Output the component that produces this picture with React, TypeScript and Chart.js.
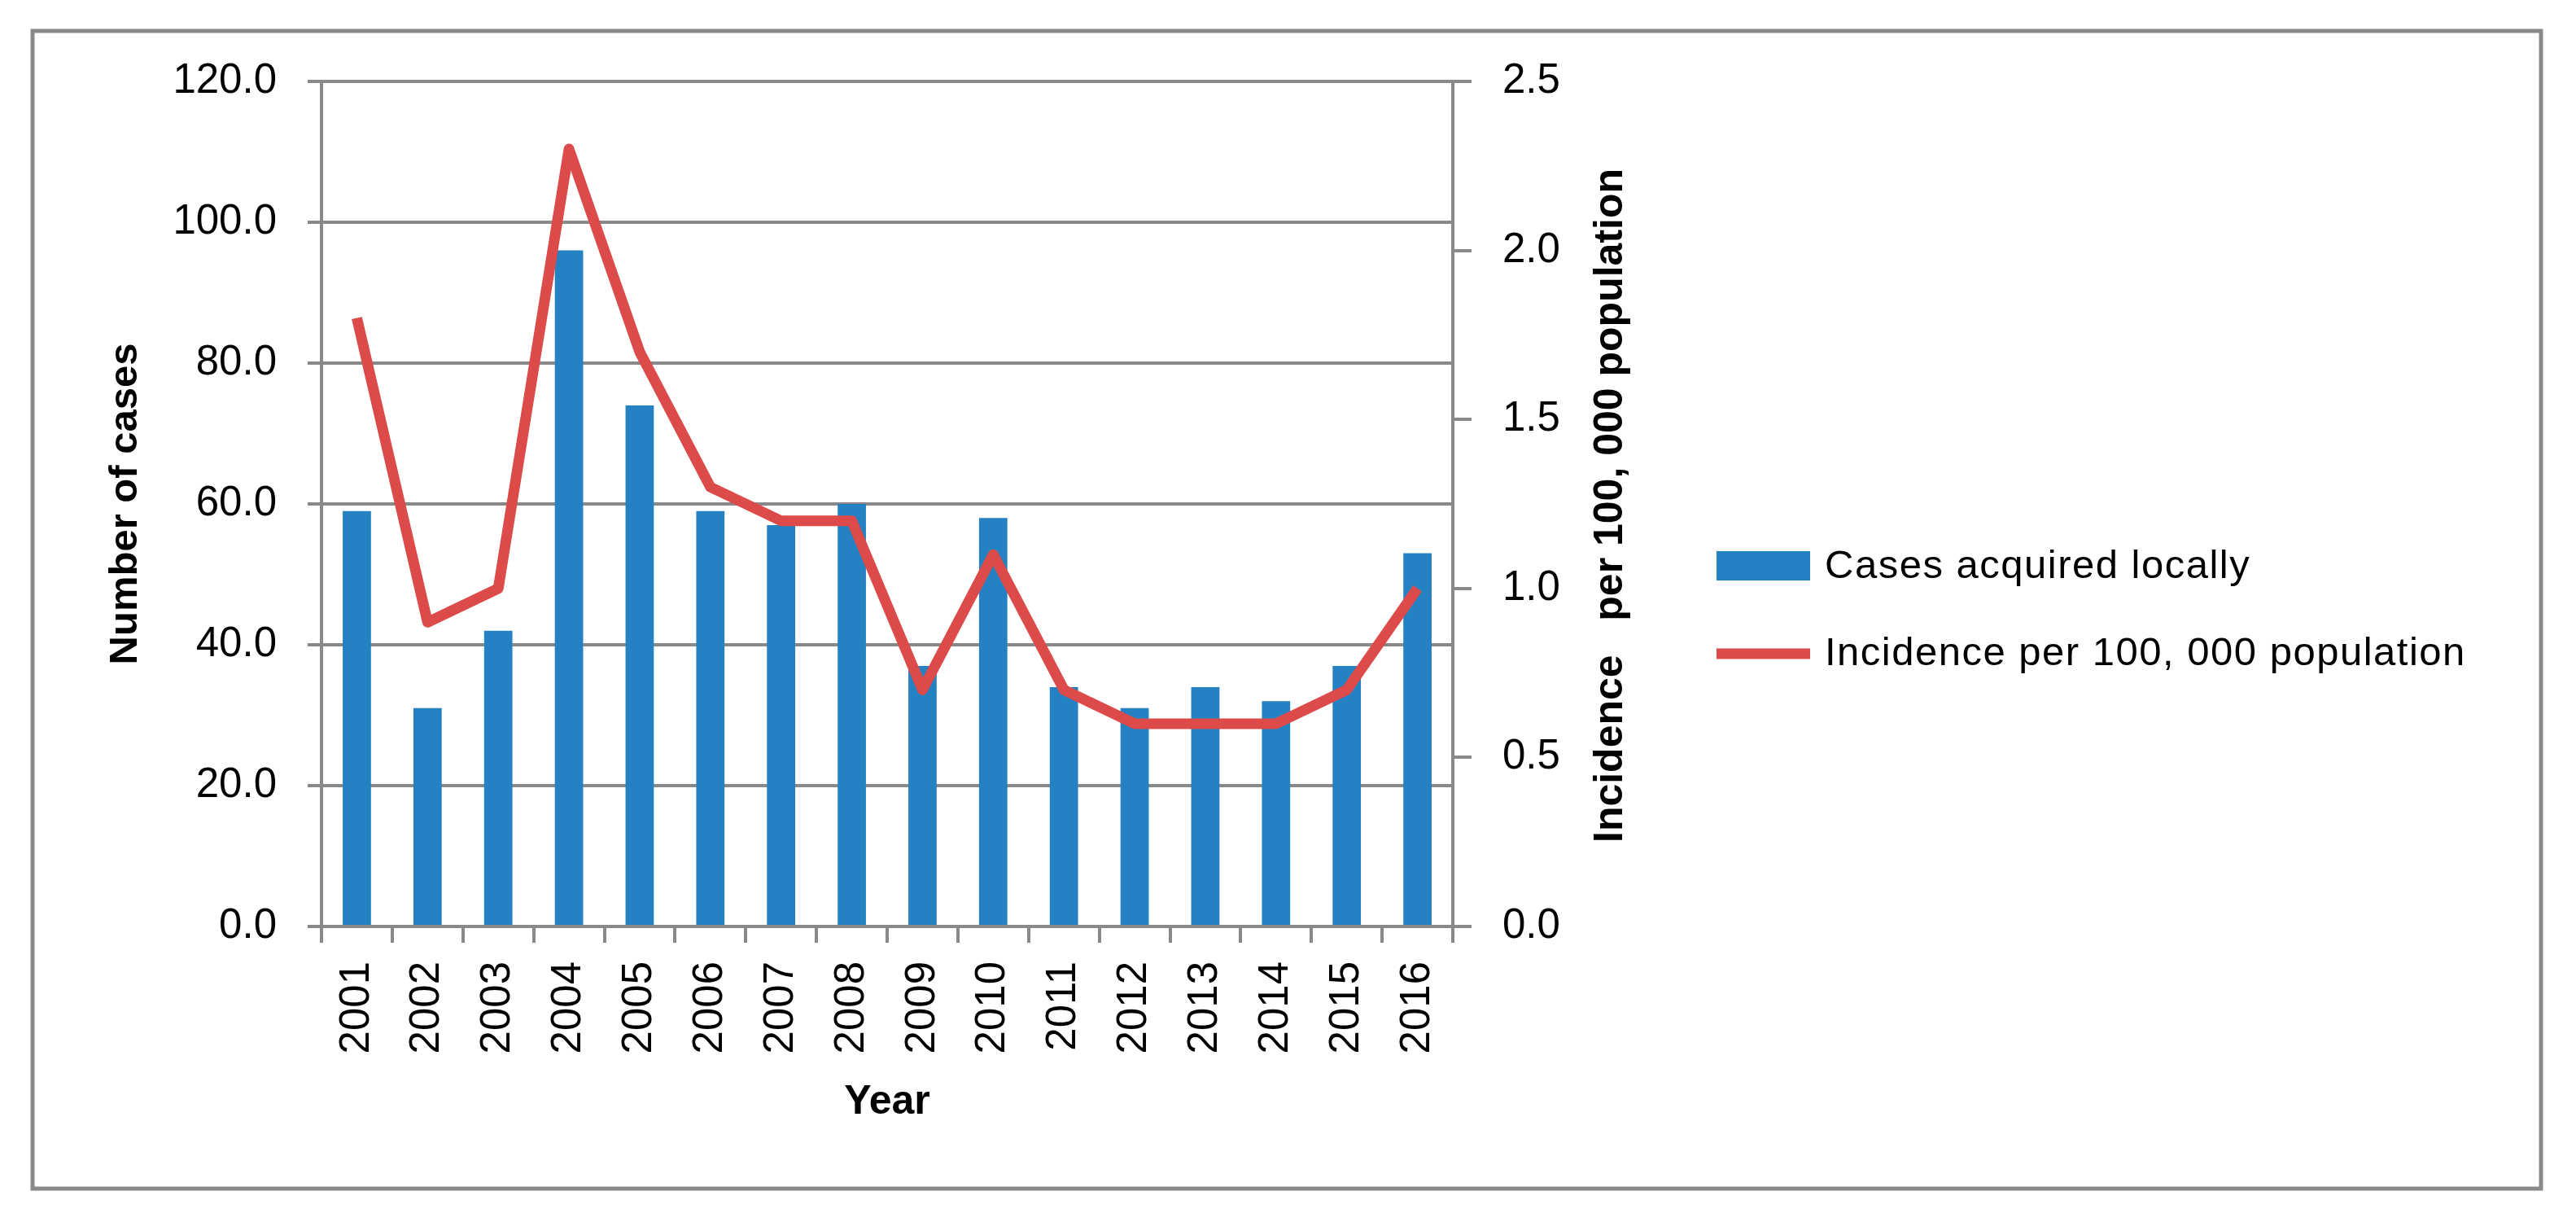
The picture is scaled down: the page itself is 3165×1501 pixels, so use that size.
import React, { useEffect, useRef } from "react";
import { Chart, registerables } from "chart.js";

Chart.register(...registerables);

const categories = ["2001", "2002", "2003", "2004", "2005", "2006", "2007", "2008", "2009", "2010", "2011", "2012", "2013", "2014", "2015", "2016"];
const casesAcquiredLocally = [59, 31, 42, 96, 74, 59, 57, 60, 37, 58, 34, 31, 34, 32, 37, 53];
const incidencePer100k = [1.8, 0.9, 1.0, 2.3, 1.7, 1.3, 1.2, 1.2, 0.7, 1.1, 0.7, 0.6, 0.6, 0.6, 0.7, 1.0];
const leftAxisTicks = [0, 20, 40, 60, 80, 100, 120];
const rightAxisTicks = [0, 0.5, 1.0, 1.5, 2.0, 2.5];

const barLabel = "Cases acquired locally";
const lineLabel = "Incidence per 100, 000 population";
const leftTitle = "Number of cases";
const rightTitle = "Incidence   per 100, 000 population";
const xTitle = "Year";

const W = 3165;
const H = 1501;
const FONT = "'Liberation Sans', Arial, sans-serif";
const GRAY = "#898989";
const BLUE = "#2481C2";
const RED = "#DC4B4A";

export default function App() {
  const ref = useRef<HTMLCanvasElement | null>(null);

  useEffect(() => {
    const canvas = ref.current;
    if (!canvas) return;

    const decor = {
      id: "decor",
      beforeDraw(chart: any) {
        const ctx = chart.ctx;
        ctx.save();
        ctx.fillStyle = "#ffffff";
        ctx.fillRect(0, 0, W, H);
        ctx.strokeStyle = GRAY;
        ctx.lineWidth = 5;
        ctx.strokeRect(40, 38, 3082, 1422);
        ctx.restore();
      },
      afterDraw(chart: any) {
        const ctx = chart.ctx;
        const ds = chart.data.datasets;
        ctx.save();
        // right axis title (reads bottom to top)
        ctx.translate(1979, 621);
        ctx.rotate(-Math.PI / 2);
        ctx.font = `bold 50px ${FONT}`;
        ctx.fillStyle = "#000";
        ctx.textAlign = "center";
        ctx.textBaseline = "middle";
        ctx.fillText(rightTitle, 0, 0);
        ctx.restore();

        // legend
        ctx.save();
        ctx.font = `49px ${FONT}`;
        try {
          (ctx as any).letterSpacing = "1.5px";
        } catch (e) {}
        ctx.fillStyle = ds[0].backgroundColor;
        ctx.fillRect(2109, 677, 115, 36);
        ctx.strokeStyle = ds[1].borderColor;
        ctx.lineWidth = ds[1].borderWidth;
        ctx.beginPath();
        ctx.moveTo(2109, 803);
        ctx.lineTo(2224, 803);
        ctx.stroke();
        ctx.fillStyle = "#000";
        ctx.textAlign = "left";
        ctx.textBaseline = "middle";
        ctx.fillText(ds[0].label, 2242, 696);
        ctx.fillText(ds[1].label, 2242, 803);
        ctx.restore();
      },
    };

    const chart = new Chart(canvas, {
      type: "bar",
      data: {
        labels: categories,
        datasets: [
          {
            type: "bar",
            label: barLabel,
            data: casesAcquiredLocally,
            backgroundColor: BLUE,
            borderWidth: 0,
            barPercentage: 0.4,
            categoryPercentage: 1.0,
            yAxisID: "y",
            order: 2,
          },
          {
            type: "line",
            label: lineLabel,
            data: incidencePer100k,
            borderColor: RED,
            backgroundColor: RED,
            borderWidth: 13,
            pointRadius: 0,
            tension: 0,
            borderJoinStyle: "round",
            yAxisID: "y1",
            order: 1,
          } as any,
        ],
      },
      options: {
        responsive: false,
        devicePixelRatio: 1,
        animation: false,
        layout: { padding: { left: 0, top: 100, right: 0, bottom: 117 } },
        plugins: {
          legend: { display: false },
          tooltip: { enabled: false },
          title: { display: false },
        },
        scales: {
          x: {
            offset: true,
            grid: {
              display: true,
              offset: true,
              drawOnChartArea: false,
              drawTicks: true,
              tickLength: 20,
              color: GRAY,
              lineWidth: 4,
            },
            border: { display: true, color: GRAY, width: 4 },
            ticks: {
              color: "#000",
              font: { family: FONT, size: 51 },
              minRotation: 90,
              maxRotation: 90,
              padding: 23,
              autoSkip: false,
            },
            title: {
              display: true,
              text: xTitle,
              color: "#000",
              font: { family: FONT, size: 50, weight: "bold" },
              padding: 0,
            },
            afterFit(scale: any) {
              scale.height = 246;
            },
          },
          y: {
            position: "left",
            min: 0,
            max: 120,
            afterBuildTicks(scale: any) {
              scale.ticks = leftAxisTicks.map((v) => ({ value: v }));
            },
            grid: {
              color: GRAY,
              lineWidth: 4,
              tickLength: 17,
              drawTicks: true,
            },
            border: { display: true, color: GRAY, width: 4 },
            ticks: {
              color: "#000",
              font: { family: FONT, size: 51 },
              padding: 38,
              callback: (v: any) => Number(v).toFixed(1),
            },
            title: {
              display: true,
              text: leftTitle,
              color: "#000",
              font: { family: FONT, size: 49, weight: "bold" },
              padding: { top: 125, bottom: 0 },
            },
            afterFit(scale: any) {
              scale.width = 395;
            },
          },
          y1: {
            position: "right",
            min: 0,
            max: 2.5,
            afterBuildTicks(scale: any) {
              scale.ticks = rightAxisTicks.map((v) => ({ value: v }));
            },
            grid: {
              drawOnChartArea: false,
              drawTicks: true,
              tickLength: 23,
              color: GRAY,
              lineWidth: 4,
            },
            border: { display: true, color: GRAY, width: 4 },
            ticks: {
              color: "#000",
              font: { family: FONT, size: 51 },
              padding: 38,
              callback: (v: any) => Number(v).toFixed(1),
            },
            title: { display: false },
            afterFit(scale: any) {
              scale.width = W - 1785;
            },
          },
        },
      },
      plugins: [decor],
    });

    return () => {
      chart.destroy();
    };
  }, []);

  return (
    <div style={{ position: "fixed", left: 0, top: 0, width: W, height: H, background: "#fff" }}>
      <canvas ref={ref} width={W} height={H} style={{ display: "block", width: W, height: H }} />
    </div>
  );
}
